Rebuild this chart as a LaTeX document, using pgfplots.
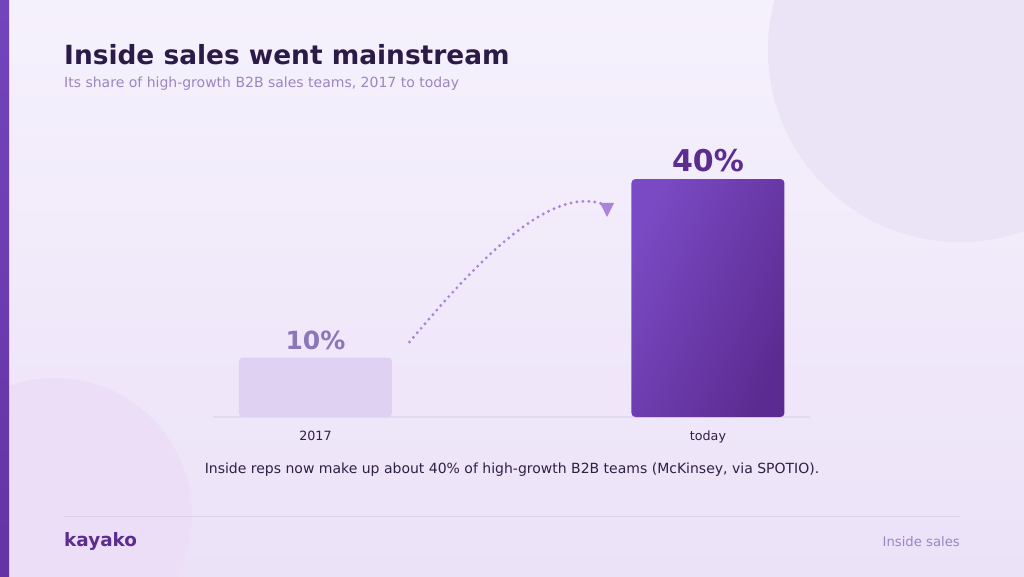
\documentclass[border=0pt]{standalone}
\usepackage{pgfplots}
\pgfplotsset{compat=1.18}
\usepackage{fontspec}
\setmainfont{DejaVu Sans}
\definecolor{bgtop}{HTML}{F5F1FC}
\definecolor{bgbot}{HTML}{ECE2F8}
\definecolor{circA}{HTML}{EBE3F6}
\definecolor{circB}{HTML}{EBDEF6}
\definecolor{stripeA}{HTML}{7444BD}
\definecolor{stripeB}{HTML}{6434A4}
\definecolor{titlec}{HTML}{2A1B47}
\definecolor{subc}{HTML}{9A86C2}
\definecolor{barone}{HTML}{DED1F1}
\definecolor{bartwoA}{HTML}{7A4AC4}
\definecolor{bartwoB}{HTML}{5C2B91}
\definecolor{lblone}{HTML}{8C76BA}
\definecolor{lbltwo}{HTML}{5B2D91}
\definecolor{basec}{HTML}{E3DAF1}
\definecolor{arrowc}{HTML}{A884DA}
\definecolor{textc}{HTML}{2E2142}
\definecolor{footline}{HTML}{DCD0EC}
\begin{document}
\begin{tikzpicture}[x=1pt,y=1pt]
\path[use as bounding box] (0,0) rectangle (1024,576);
\clip (0,0) rectangle (1024,576);
\shade[top color=bgtop, bottom color=bgbot] (0,0) rectangle (1024,576);
\fill[circA] (960,526) circle (192);
\fill[circB] (55,61) circle (137);
\shade[top color=stripeA, bottom color=stripeB] (0,0) rectangle (9,576);
% titles
\node[anchor=base west, inner sep=0pt, text=titlec, font=\fontsize{26.4}{30}\selectfont\bfseries] at (64,511) {Inside sales went mainstream};
\node[anchor=base west, inner sep=0pt, text=subc, font=\fontsize{14}{17}\selectfont] at (64,488) {Its share of high-growth B2B sales teams, 2017 to today};
% chart
\begin{axis}[
  at={(213pt,159pt)}, anchor=south west,
  scale only axis, width=597pt, height=267.75pt,
  xmin=-0.261, xmax=1.26, ymin=0, ymax=45,
  axis x line=bottom, axis y line=none,
  x axis line style={-, draw=basec, line width=2pt},
  xtick={0,1}, xticklabels={2017,today},
  major tick length=0pt, ytick=\empty,
  xticklabel style={anchor=base, yshift=-23pt, inner sep=0pt, text=textc, font=\fontsize{12.7}{15}\selectfont},
  clip=false,
]
\addplot[ybar, bar width=153pt, bar shift=0pt, fill=barone, draw=none, rounded corners=4pt,
  nodes near coords={\pgfmathprintnumber[assume math mode=true]{\pgfplotspointmeta}\%},
  every node near coord/.append style={anchor=base, yshift=8pt, inner sep=0pt, text=lblone, font=\fontsize{25}{30}\selectfont\bfseries}]
  coordinates {(0,10)};
\addplot[ybar, bar width=153pt, bar shift=0pt, draw=none, rounded corners=4pt,
  top color=bartwoA, bottom color=bartwoB, shading angle=65,
  nodes near coords={\pgfmathprintnumber[assume math mode=true]{\pgfplotspointmeta}\%},
  every node near coord/.append style={anchor=base, yshift=8pt, inner sep=0pt, text=lbltwo, font=\fontsize{30}{34}\selectfont\bfseries}]
  coordinates {(1,40)};
\end{axis}
% arrow
\draw[arrowc, line width=3.2pt, line cap=round, dash pattern=on 0pt off 6pt]
  (409.5,234) .. controls (465,300) and (545,392) .. (603,372);
\fill[arrowc] (600,373) -- (614,373) -- (607,359) -- cycle;
% caption
\node[anchor=base, inner sep=0pt, text=textc, font=\fontsize{14}{17}\selectfont] at (512,103) {Inside reps now make up about 40\% of high-growth B2B teams (McKinsey, via SPOTIO).};
% footer
\draw[footline, line width=1pt] (64,60) -- (960,60);
\node[anchor=base west, inner sep=0pt, text=lbltwo, font=\fontsize{18.4}{22}\selectfont\bfseries] at (64,30) {kayako};
\node[anchor=base east, inner sep=0pt, text=subc, font=\fontsize{13.2}{16}\selectfont] at (960,30) {Inside sales};
\end{tikzpicture}
\end{document}
